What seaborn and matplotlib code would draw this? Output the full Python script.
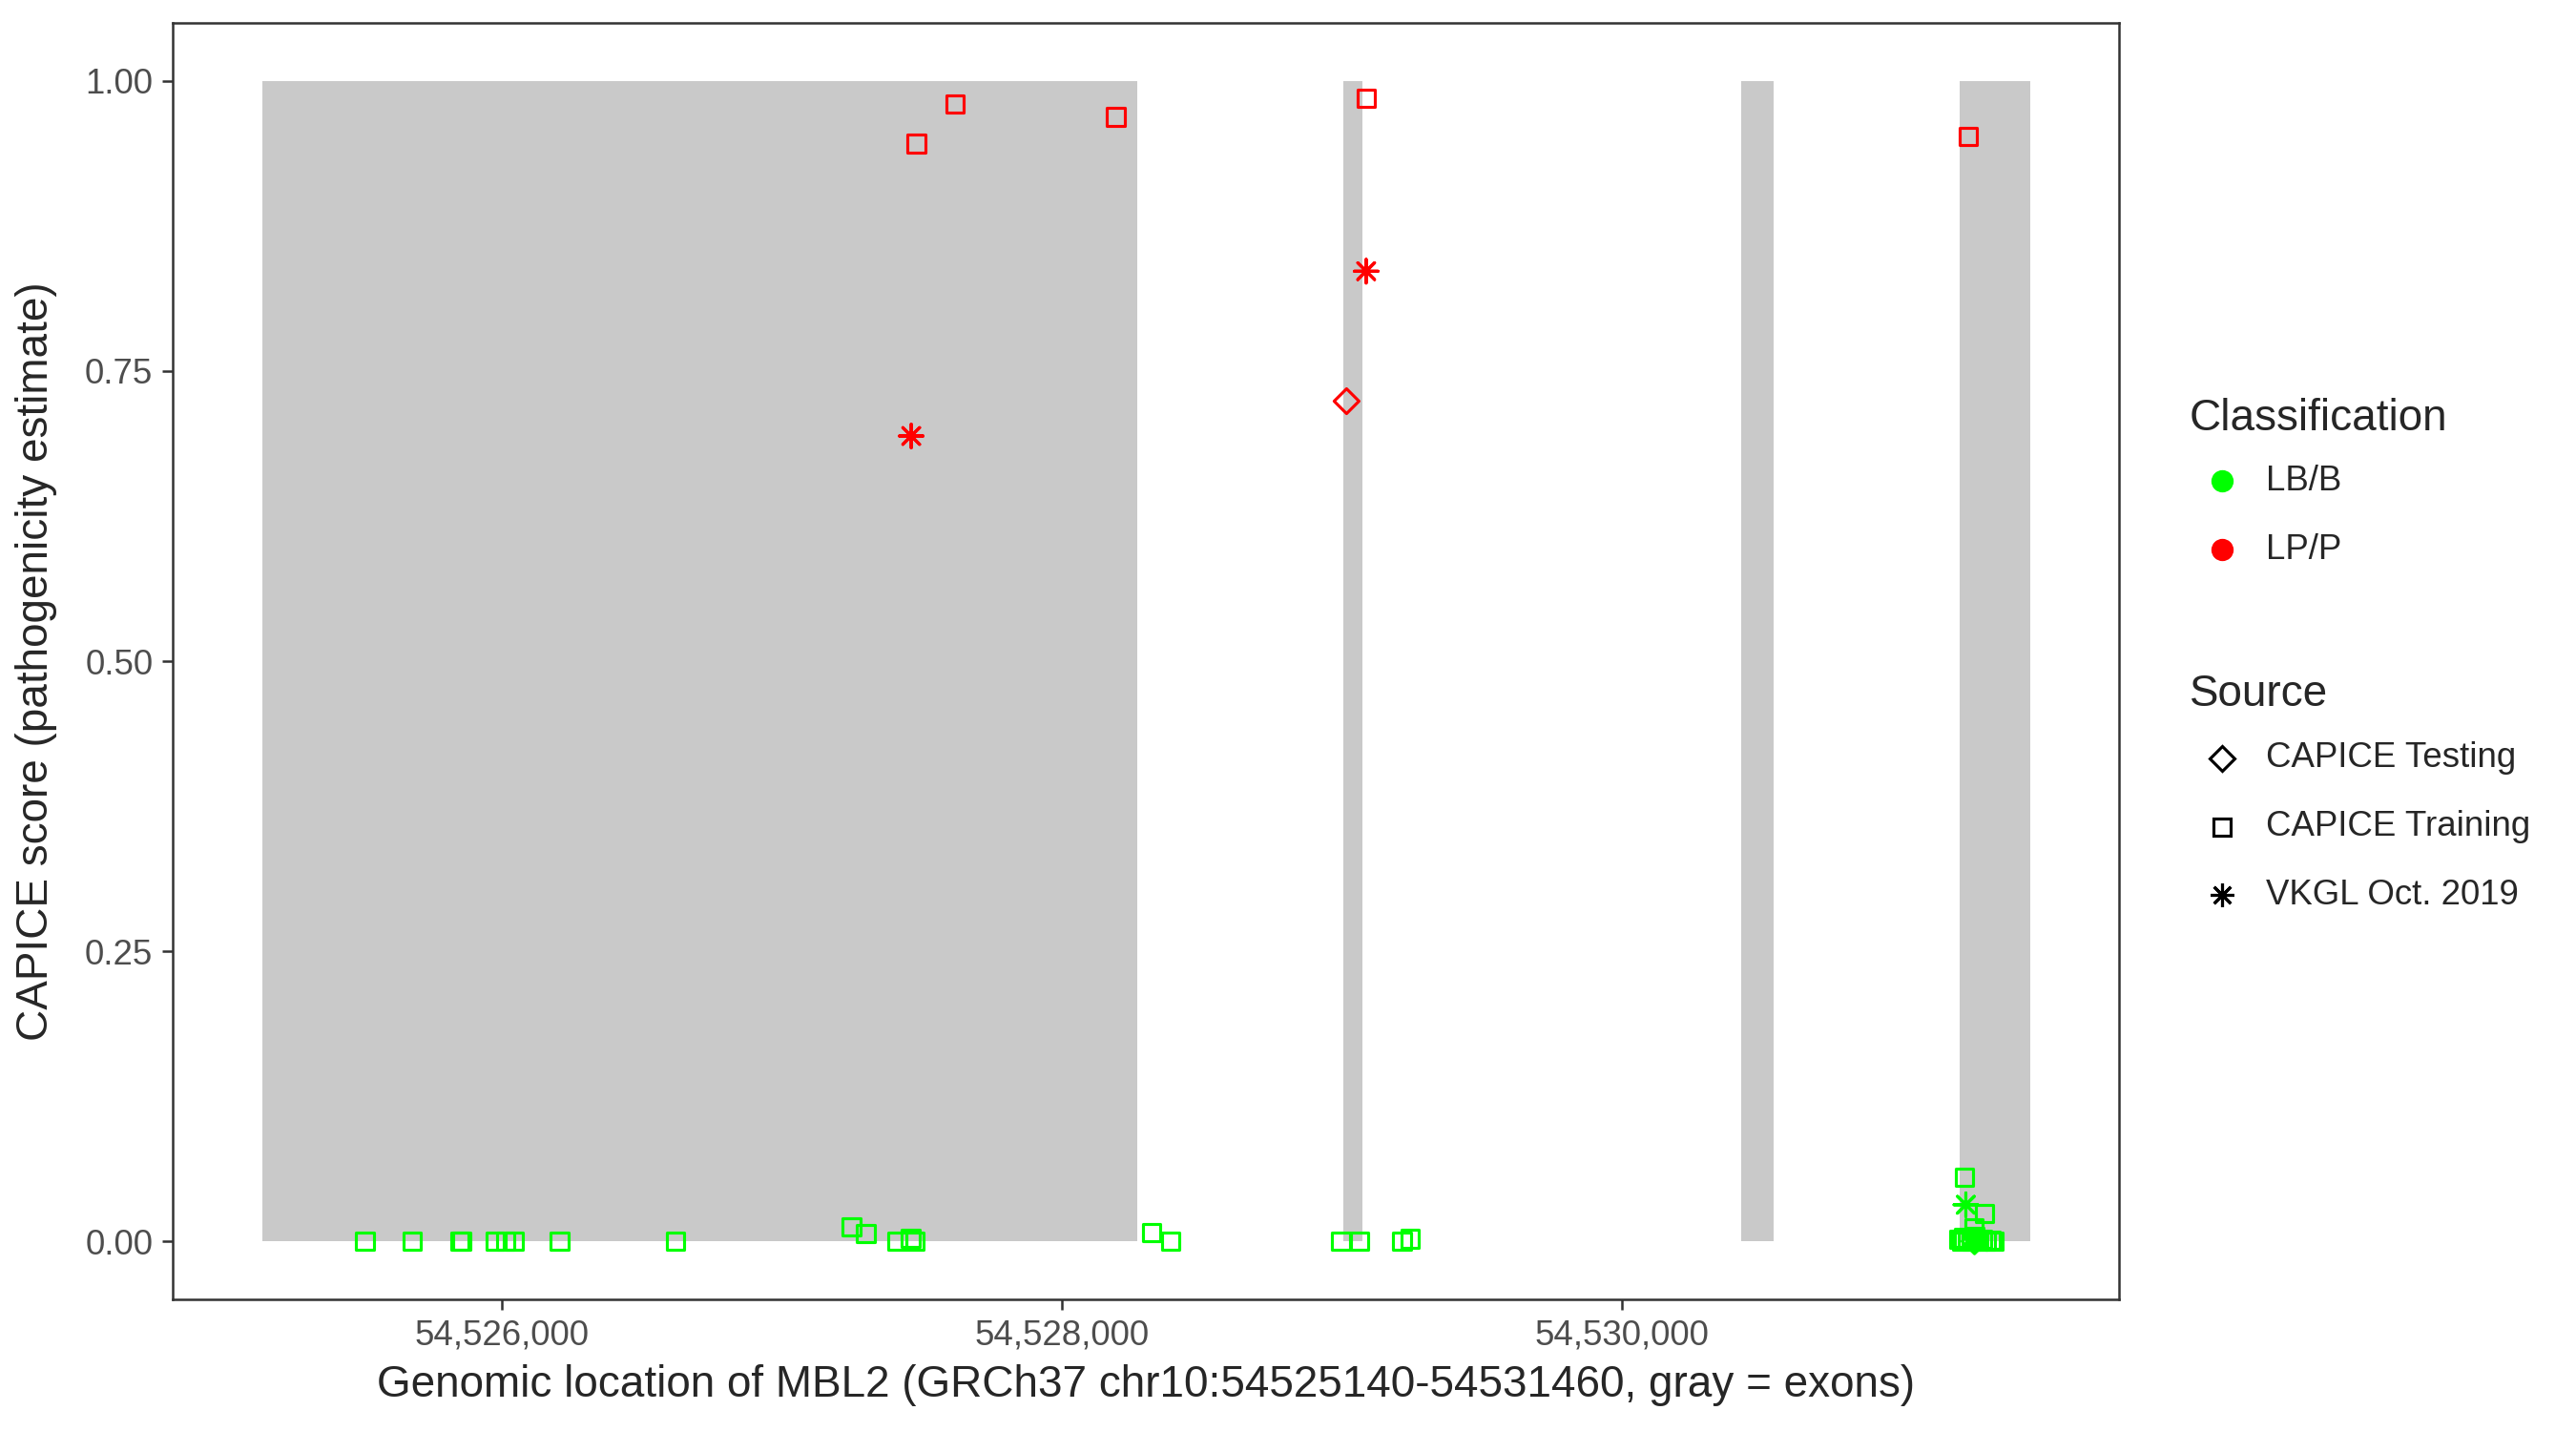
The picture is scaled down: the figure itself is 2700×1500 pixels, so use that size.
import numpy as np
import pandas as pd
import matplotlib
matplotlib.use("Agg")
import matplotlib.pyplot as plt
import seaborn as sns
from matplotlib.markers import MarkerStyle
from matplotlib.lines import Line2D
from matplotlib.transforms import Affine2D
from matplotlib.ticker import FuncFormatter

# exons of MBL2 (gray bands)
exon_start = [54525143, 54529005, 54530428, 54531206]
exon_end = [54528270, 54529074, 54530542, 54531458]

# LP/P variants
lp_train_pos = [54527480, 54527618, 54528192, 54529087, 54531238]
lp_train_score = [0.946, 0.980, 0.969, 0.985, 0.952]
lp_test_pos = [54529017]
lp_test_score = [0.724]
lp_vkgl_pos = [54527462, 54529087]
lp_vkgl_score = [0.694, 0.836]

# LB/B variants
lb_train_pos = [54525511, 54525679, 54525850, 54525856, 54525976, 54526014, 54526044,
                54526206, 54526620, 54527249, 54527300, 54527412, 54527460, 54527476,
                54528320, 54528389, 54528997, 54529063, 54529215, 54529244,
                54531223, 54531296, 54531259, 54531205, 54531214, 54531222, 54531235,
                54531248, 54531262, 54531275, 54531288, 54531302, 54531318, 54531330]
lb_train_score = [0, 0, 0, 0, 0, 0, 0,
                  0, 0, 0.0126, 0.0069, 0, 0.0028, 0,
                  0.0077, 0, 0, 0, 0, 0.0022,
                  0.055, 0.0241, 0.0112, 0.002, 0, 0.003, 0.001,
                  0, 0.004, 0, 0.002, 0, 0.001, 0]
lb_test_pos = [54531260]
lb_test_score = [0.0]
lb_vkgl_pos = [54531229]
lb_vkgl_score = [0.0315]

groups = [
    ("LB/B", "CAPICE Training", lb_train_pos, lb_train_score),
    ("LB/B", "CAPICE Testing", lb_test_pos, lb_test_score),
    ("LB/B", "VKGL Oct. 2019", lb_vkgl_pos, lb_vkgl_score),
    ("LP/P", "CAPICE Training", lp_train_pos, lp_train_score),
    ("LP/P", "CAPICE Testing", lp_test_pos, lp_test_score),
    ("LP/P", "VKGL Oct. 2019", lp_vkgl_pos, lp_vkgl_score),
]
frames = []
for cls, src, p, s in groups:
    frames.append(pd.DataFrame({"pos": p, "score": s, "Classification": cls, "Source": src}))
df = pd.concat(frames, ignore_index=True)

palette = {"LB/B": "#00FF00", "LP/P": "#FF0000"}
markers = {
    "CAPICE Testing": MarkerStyle("D", fillstyle="none"),
    "CAPICE Training": MarkerStyle("s", fillstyle="none"),
    "VKGL Oct. 2019": MarkerStyle((8, 2, 0), transform=Affine2D().scale(1.35)),
}

sns.set_style("white")
plt.rcParams["font.family"] = ["Liberation Sans", "DejaVu Sans"]

fig = plt.figure(figsize=(9, 5), dpi=300)
ax = fig.add_axes([181 / 2700, 1 - 1362 / 1500, 2040 / 2700, 1338 / 1500])

# exon bands
ax.bar(exon_start, [1] * len(exon_start),
       width=np.array(exon_end) - np.array(exon_start),
       align="edge", bottom=0, color="#C9C9C9", linewidth=0, zorder=1)

sns.scatterplot(data=df, x="pos", y="score", hue="Classification", style="Source",
                palette=palette, markers=markers, s=19.5, legend=False, ax=ax, zorder=3)
pts = ax.collections[-1]
fc = pts.get_facecolors()
pts.set_edgecolors(fc)
pts.set_facecolors("none")
pts.set_linewidths(0.75)

span = 54531460 - 54525140
ax.set_xlim(54525140 - 0.05 * span, 54531460 + 0.05 * span)
ax.set_ylim(-0.05, 1.05)
ax.set_xticks([54526000, 54528000, 54530000])
ax.xaxis.set_major_formatter(FuncFormatter(lambda v, _: f"{int(v):,}"))
ax.set_yticks([0, 0.25, 0.5, 0.75, 1.0])
ax.yaxis.set_major_formatter(FuncFormatter(lambda v, _: f"{v:.2f}"))

for sp in ax.spines.values():
    sp.set_visible(True)
    sp.set_color("#333333")
    sp.set_linewidth(0.6)
ax.tick_params(axis="both", direction="out", length=2.75, width=0.6, color="#333333",
               labelsize=8.8, labelcolor="#4D4D4D", pad=2.2,
               bottom=True, left=True)
ax.grid(False)

ax.set_xlabel("Genomic location of MBL2 (GRCh37 chr10:54525140-54531460, gray = exons)",
              fontsize=11, va="center")
ax.xaxis.set_label_coords(0.5, (1362 - 1452) / 1338)
ax.set_ylabel("CAPICE score (pathogenicity estimate)", fontsize=11, va="center")
ax.yaxis.set_label_coords((38 - 181) / 2040, 0.5)


def fx(px):
    return px / 2700


def fy(py):
    return 1 - py / 1500


# legend, drawn by hand to mimic the ggplot layout
fig.text(fx(2295), fy(451), "Classification", fontsize=11, va="baseline")
for lbl, yy in [("LB/B", 504), ("LP/P", 576)]:
    fig.add_artist(Line2D([fx(2329)], [fy(yy)], marker="o", markersize=4.6, linestyle="none",
                          color=palette[lbl], transform=fig.transFigure))
    fig.text(fx(2375), fy(yy), lbl, fontsize=8.8, va="center")

fig.text(fx(2295), fy(740), "Source", fontsize=11, va="baseline")
for lbl, yy in [("CAPICE Testing", 795), ("CAPICE Training", 867), ("VKGL Oct. 2019", 938)]:
    fig.add_artist(Line2D([fx(2329)], [fy(yy)], marker=markers[lbl], markersize=4.4,
                          linestyle="none", color="black", markeredgewidth=0.75,
                          transform=fig.transFigure))
    fig.text(fx(2375), fy(yy), lbl, fontsize=8.8, va="center")

fig.savefig("out.png", dpi=300)
